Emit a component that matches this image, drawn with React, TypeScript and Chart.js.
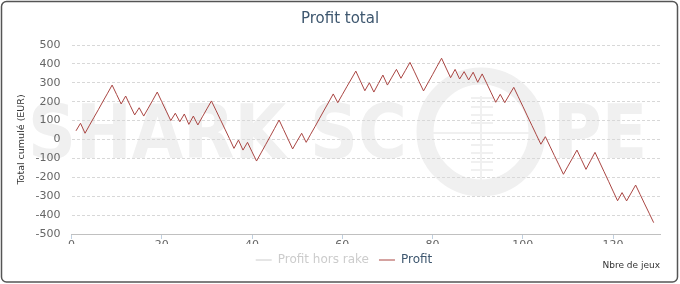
import React, { useEffect, useRef } from 'react';
import { Chart, registerables } from 'chart.js';

Chart.register(...registerables);

const chartTitle = 'Profit total';
const seriesNames = ['Profit hors rake', 'Profit'];
const xAxisTitle = 'Nbre de jeux';
const yAxisTitle = 'Total cumulé (EUR)';

// cumulative profit per game (game 1 .. 129)
const profit = [
  46, 86, 33, 76, 118, 160, 203, 245, 288, 238,
  188, 230, 180, 130, 168, 124, 166, 208, 251, 200,
  150, 100, 139, 94, 135, 80, 124, 77, 120, 162,
  204, 155, 105, 55, 5, -47, -3, -56, -15, -65,
  -114, -71, -28, 15, 59, 103, 52, 1, -50, -8,
  33, -15, 28, 70, 113, 156, 198, 241, 195, 237,
  279, 320, 362, 310, 258, 300, 251, 296, 341, 288,
  330, 371, 324, 366, 408, 358, 307, 257, 300, 343,
  387, 430, 378, 327, 371, 320, 359, 315, 356, 303,
  347, 297, 247, 197, 239, 195, 236, 276, 226, 176,
  125, 75, 25, -25, 15, -35, -85, -134, -184, -141,
  -99, -56, -107, -158, -113, -68, -119, -170, -221, -273,
  -324, -281, -325, -283, -241, -291, -341, -390, -440,
];
// series is hidden in the reference (legend item greyed out)
const profitHorsRake: number[] = [];

const gameNumbers = profit.map((_, i) => i + 1);
const xTickValues = [0, 20, 40, 60, 80, 100, 120];
const yTickValues = [-500, -400, -300, -200, -100, 0, 100, 200, 300, 400, 500];

const W = 680;
const H = 284;

const decorPlugin = {
  id: 'decor',
  beforeDraw(chart: any) {
    const ctx = chart.ctx as CanvasRenderingContext2D;
    ctx.save();
    ctx.fillStyle = '#ffffff';
    ctx.fillRect(0, 0, W, H);
    // watermark
    ctx.fillStyle = '#f0f0f0';
    ctx.strokeStyle = '#f0f0f0';
    ctx.font = 'bold 74px "DejaVu Sans Condensed", "Liberation Sans", sans-serif';
    ctx.textBaseline = 'alphabetic';
    ctx.textAlign = 'left';
    ctx.fillText('SHARK', 28, 158);
    ctx.fillText('SC', 310, 158);
    ctx.fillText('PE', 553, 158);
    ctx.lineWidth = 17;
    ctx.beginPath();
    ctx.arc(481, 132, 56, 0, Math.PI * 2);
    ctx.stroke();
    ctx.lineWidth = 2;
    ctx.beginPath();
    ctx.moveTo(481, 96);
    ctx.lineTo(481, 185);
    ctx.moveTo(433, 133);
    ctx.lineTo(532, 133);
    [98, 107, 115, 123, 145, 153, 162, 170].forEach((yy) => {
      ctx.moveTo(471, yy);
      ctx.lineTo(493, yy);
    });
    ctx.stroke();
    ctx.restore();
  },
  afterDraw(chart: any) {
    const ctx = chart.ctx as CanvasRenderingContext2D;
    const area = chart.chartArea;
    ctx.save();
    // title
    ctx.fillStyle = '#3E576F';
    ctx.font = '15px "DejaVu Sans"';
    ctx.textAlign = 'center';
    ctx.textBaseline = 'middle';
    ctx.fillText(chartTitle, W / 2, 19);
    // x axis title
    ctx.fillStyle = '#333333';
    ctx.font = '9px "DejaVu Sans"';
    ctx.textAlign = 'right';
    ctx.fillText(xAxisTitle, area.right, 266);
    // y axis title
    ctx.translate(22, (area.top + area.bottom) / 2);
    ctx.rotate(-Math.PI / 2);
    ctx.textAlign = 'center';
    ctx.font = '9.5px "DejaVu Sans"';
    ctx.fillText(yAxisTitle, 0, 0);
    ctx.restore();
    // border
    ctx.save();
    ctx.strokeStyle = '#555555';
    ctx.lineWidth = 1.5;
    ctx.beginPath();
    (ctx as any).roundRect(1.5, 1.5, 676, 280.5, 5);
    ctx.stroke();
    ctx.restore();
  },
};

export default function App() {
  const ref = useRef<HTMLCanvasElement>(null);

  useEffect(() => {
    if (!ref.current) return;
    const chart = new Chart(ref.current, {
      type: 'line',
      data: {
        datasets: [
          {
            label: seriesNames[0],
            data: profitHorsRake.map((v, i) => ({ x: gameNumbers[i], y: v })),
            borderColor: '#4572A7',
            hidden: true,
          },
          {
            label: seriesNames[1],
            data: profit.map((v, i) => ({ x: gameNumbers[i], y: v })),
            borderColor: '#AA4643',
            borderWidth: 1,
            pointRadius: 0,
            tension: 0,
          },
        ],
      },
      options: {
        animation: false,
        responsive: false,
        layout: { padding: { top: 45, right: 20, bottom: 8, left: 28 } },
        plugins: {
          title: { display: false },
          tooltip: { enabled: false },
          legend: {
            position: 'bottom',
            labels: {
              usePointStyle: true,
              pointStyle: 'line',
              pointStyleWidth: 16,
              padding: 10,
              font: { family: 'DejaVu Sans', size: 12 },
              generateLabels: (c: any) =>
                c.data.datasets.map((ds: any, i: number) => {
                  const off = !!ds.hidden;
                  return {
                    text: ds.label,
                    fillStyle: 'rgba(0,0,0,0)',
                    strokeStyle: off ? '#CCCCCC' : ds.borderColor,
                    lineWidth: 1,
                    pointStyle: 'line',
                    hidden: false,
                    datasetIndex: i,
                    fontColor: off ? '#CCCCCC' : '#3E576F',
                  };
                }),
            },
          },
        },
        scales: {
          x: {
            type: 'linear',
            min: 0,
            max: 130.4,
            afterBuildTicks: (s: any) => {
              s.ticks = xTickValues.map((v) => ({ value: v }));
            },
            afterFit: (s: any) => {
              s.height = 10;
            },
            ticks: {
              font: { family: 'DejaVu Sans', size: 11 },
              color: '#666666',
              padding: 0,
              maxRotation: 0,
              autoSkip: false,
            },
            grid: {
              drawOnChartArea: false,
              drawTicks: true,
              tickLength: 5,
              tickColor: '#C0D0E0',
              color: '#C0D0E0',
            },
            border: { color: '#C0C0C0', width: 1 },
          },
          y: {
            type: 'linear',
            min: yTickValues[0],
            max: yTickValues[yTickValues.length - 1],
            afterBuildTicks: (s: any) => {
              s.ticks = yTickValues.map((v) => ({ value: v }));
            },
            afterFit: (s: any) => {
              s.width = 43.5;
            },
            ticks: {
              font: { family: 'DejaVu Sans', size: 11 },
              color: '#666666',
              padding: 11,
            },
            grid: { color: '#D8D8D8', drawTicks: false, lineWidth: 1 },
            border: { display: false, dash: [3, 2] },
          },
        },
      },
      plugins: [decorPlugin],
    } as any);
    return () => chart.destroy();
  }, []);

  return (
    <div style={{ position: 'absolute', left: 0, top: 0, width: W, height: H }}>
      <canvas ref={ref} width={W} height={H} style={{ display: 'block' }} />
    </div>
  );
}
